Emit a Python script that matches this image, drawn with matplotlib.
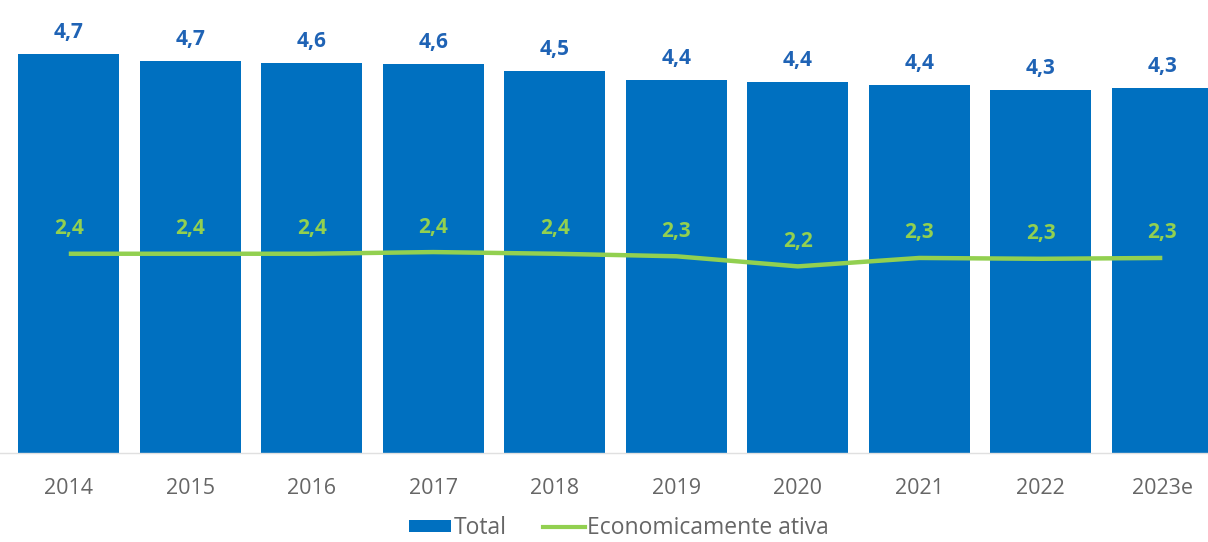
import matplotlib
matplotlib.use("Agg")
import matplotlib.pyplot as plt
from matplotlib.patches import Patch
from matplotlib.lines import Line2D

years = ["2014", "2015", "2016", "2017", "2018", "2019", "2020", "2021", "2022", "2023e"]
total = [4.74, 4.66, 4.64, 4.62, 4.54, 4.43, 4.41, 4.37, 4.32, 4.34]
ativa = [2.37, 2.37, 2.37, 2.39, 2.37, 2.34, 2.22, 2.32, 2.31, 2.32]

BAR_BLUE = "#0070C0"
LABEL_BLUE = "#1F63B5"
GREEN = "#92D050"
GRAY = "#666666"

plt.rcParams['font.family'] = ['Open Sans', 'DejaVu Sans']

fig = plt.figure(figsize=(12.08, 5.42), dpi=100)
ax = fig.add_axes([0, 0.1637, 1, 0.8363])
x = list(range(len(years)))
ax.bar(x, total, width=0.83, color=BAR_BLUE, zorder=2)
ax.plot(x, ativa, color=GREEN, lw=3.2, zorder=3, solid_capstyle='butt')

def fmt(v):
    return f"{v:.1f}".replace(".", ",")

for xi, v in zip(x, total):
    ax.annotate(fmt(v), (xi, v), xytext=(0, 15.5), textcoords='offset points',
                ha='center', va='center', color=LABEL_BLUE, fontsize=15,
                fontweight='bold')
for xi, v in zip(x, ativa):
    ax.annotate(fmt(v), (xi, v), xytext=(0, 18), textcoords='offset points',
                ha='center', va='center', color=GREEN, fontsize=15,
                fontweight='bold')

ax.set_xlim(-0.566, 9.376)
ax.set_ylim(0, 5.384)
ax.set_xticks(x)
ax.set_xticklabels(years, color=GRAY, fontsize=15.5)
ax.tick_params(axis='x', length=0, pad=18)
ax.set_yticks([])
for s in ['top', 'right', 'left']:
    ax.spines[s].set_visible(False)
ax.spines['bottom'].set_color('#E0E0E0')
ax.spines['bottom'].set_linewidth(1)

handles = [Patch(facecolor=BAR_BLUE, edgecolor='none'),
           Line2D([0], [0], color=GREEN, lw=3)]
leg = fig.legend(handles, ["Total", "Economicamente ativa"], loc='center',
                 bbox_to_anchor=(0.5124, 0.026), ncol=2, frameon=False,
                 fontsize=16.5, handlelength=1.85, handleheight=0.45,
                 handletextpad=0.08, columnspacing=1.6, borderpad=0,
                 borderaxespad=0)
for t in leg.get_texts():
    t.set_color(GRAY)

fig.savefig("out.png", dpi=100)
